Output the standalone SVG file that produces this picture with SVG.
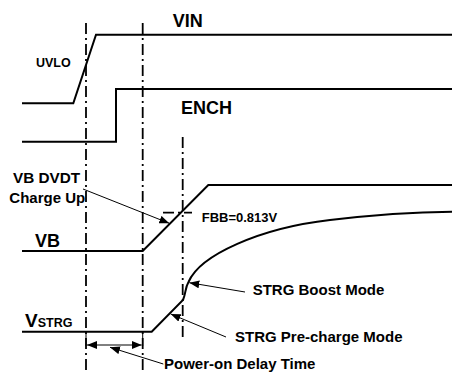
<svg xmlns="http://www.w3.org/2000/svg" width="452" height="373" viewBox="0 0 452 373">
<style>
.sig{fill:none;stroke:#000;stroke-width:2;stroke-linejoin:miter}
.guide{fill:none;stroke:#000;stroke-width:1.8;stroke-dasharray:11 4 2 4}
.lead{fill:none;stroke:#000;stroke-width:1}
.t{font-family:"Liberation Sans",Arial,sans-serif;font-weight:bold;fill:#000}
</style>
<defs>
<marker id="ah" viewBox="0 0 10 8" refX="10" refY="4" markerWidth="10" markerHeight="8" markerUnits="userSpaceOnUse" orient="auto">
<path d="M0,0 L10,4 L0,8 Z" fill="#000"/>
</marker>
</defs>
<rect width="452" height="373" fill="#fff"/>
<g id="guides">
<line class="guide" x1="86" y1="23" x2="86" y2="373"/>
<line class="guide" x1="142.7" y1="23" x2="142.7" y2="373"/>
<line class="guide" x1="182.7" y1="137" x2="182.7" y2="340"/>
<line class="guide" x1="163" y1="212.7" x2="192" y2="212.7"/>
</g>
<g id="vin">
<path class="sig" d="M22,103.3 L73.3,103.3 L96,34.7 L452,34.7"/>
<text class="t" x="172.7" y="26.7" font-size="18">VIN</text>
<text class="t" x="36" y="66.7" font-size="12.5">UVLO</text>
</g>
<g id="ench">
<path class="sig" d="M22,141.7 L116,141.7 L116,89 L452,89"/>
<text class="t" x="181" y="114" font-size="18">ENCH</text>
</g>
<g id="vb">
<path class="sig" d="M22,251 L142.7,251 L208.3,185 L452,185"/>
<text class="t" x="35" y="247.3" font-size="18">VB</text>
<text class="t" x="13" y="183.3" font-size="15.3">VB DVDT</text>
<text class="t" x="9.3" y="202.7" font-size="15">Charge Up</text>
<text class="t" x="201.7" y="222.3" font-size="13">FBB=0.813V</text>
</g>
<g id="vstrg">
<path class="sig" d="M22,331.7 L151.7,331.7 L183,300 C186,293 185,288 188.5,282 C200,255 260,228 330,220 C380,214 420,212 452,211.7"/>
<text class="t" x="25" y="327.3" font-size="19">V<tspan font-size="12.5">STRG</tspan></text>
<text class="t" x="252.7" y="295" font-size="15">STRG Boost Mode</text>
<text class="t" x="235" y="342.3" font-size="15">STRG Pre-charge Mode</text>
<text class="t" x="164" y="369" font-size="15">Power-on Delay Time</text>
</g>
<g id="connectors">
<line class="lead" x1="83" y1="189" x2="169.3" y2="223.3" marker-end="url(#ah)"/>
<line class="lead" x1="245" y1="292" x2="189.3" y2="282.7" marker-end="url(#ah)"/>
<line class="lead" x1="226" y1="337" x2="170.7" y2="314" marker-end="url(#ah)"/>
<line class="lead" x1="163.3" y1="364" x2="110" y2="347.3" marker-end="url(#ah)"/>
<path class="lead" d="M86,331.7 L86,346 M142.7,331.7 L142.7,346" stroke-width="2"/>
<line class="lead" x1="114" y1="345" x2="87" y2="345" marker-end="url(#ah)"/>
<line class="lead" x1="114" y1="345" x2="141.7" y2="345" marker-end="url(#ah)"/>
</g>
</svg>
